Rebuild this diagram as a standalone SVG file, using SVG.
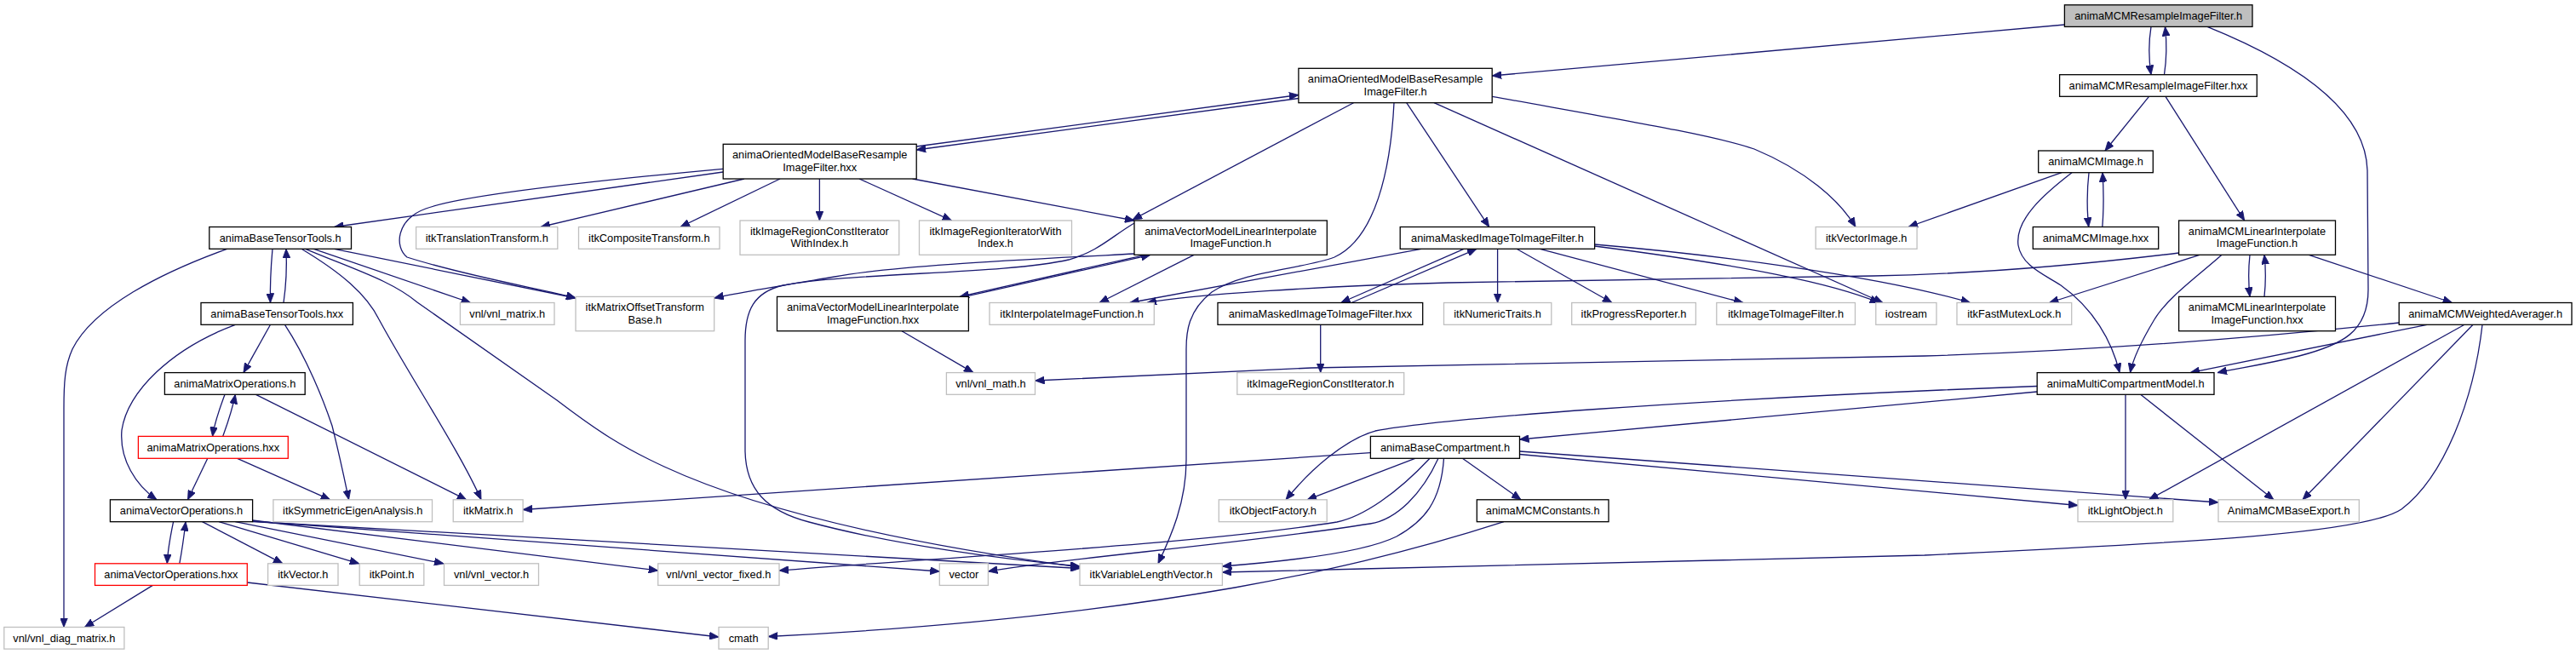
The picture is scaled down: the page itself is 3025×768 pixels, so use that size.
<svg xmlns="http://www.w3.org/2000/svg" width="3025" height="768" viewBox="0 0 3025 768">
<style>
.e{fill:none;stroke:#191970;stroke-width:1.3;marker-end:url(#ah)}
.nb{fill:#fff;stroke:#000;stroke-width:1.3}
.ng{fill:#fff;stroke:#bfbfbf;stroke-width:1.3}
.nr{fill:#fff;stroke:#ff0000;stroke-width:1.3}
.root{fill:#bfbfbf;stroke:#000;stroke-width:1.3}
text{font-family:"Liberation Sans",Arial,sans-serif;font-size:12.8px;fill:#000;text-anchor:middle}
</style>
<defs>
<marker id="ah" markerUnits="userSpaceOnUse" markerWidth="12" markerHeight="9" refX="11" refY="4.5" orient="auto"><path d="M0,0 L11,4.5 L0,9 z" fill="#191970" stroke="#191970" stroke-width="0.8"/></marker>
</defs>
<rect x="0" y="0" width="3025" height="768" fill="#fff"/>
<g id="edges">
<path class="e" d="M2424.4,29 L1752.2,89"/>
<path class="e" d="M2526,31.4 C2523,50 2523,68 2526,87.7"/>
<path class="e" d="M2541.5,87.7 C2544.5,68 2544.5,50 2542.5,31.4"/>
<path class="e" d="M2592,31.4 C2700,75 2778,130 2780,200 L2781,340 C2781,390 2750,405 2700,418 C2660,428 2630,432 2604,437.6"/>
<path class="e" d="M2523.5,113.3 L2472,177"/>
<path class="e" d="M2543,113.3 L2635.7,259"/>
<path class="e" d="M2453,202.7 C2450.5,225 2450.5,245 2452.7,266.5"/>
<path class="e" d="M2468.8,266.5 C2470.5,245 2470.5,225 2469,202.7"/>
<path class="e" d="M2421,202.7 L2241,266.5"/>
<path class="e" d="M2433,202.7 C2400,228 2366,258 2370,288 C2374,312 2400,322 2420,335 C2458,362 2480,400 2489,437.6"/>
<path class="e" d="M2558.6,297 C2420,314 2300,322 2200,324 L1700,332 C1550,336 1400,346 1347,355.5"/>
<path class="e" d="M2583,299.3 L2406.4,355.5"/>
<path class="e" d="M2609,299.3 C2580,325 2545,350 2530,375 C2515,400 2505,420 2501.5,437.6"/>
<path class="e" d="M2642,299.3 C2640,318 2640,330 2642,348.4"/>
<path class="e" d="M2659,348.4 C2661,330 2661,318 2659,299.3"/>
<path class="e" d="M2711.3,299.3 L2879.6,355.5"/>
<path class="e" d="M2817.2,379 C2600,402 2420,413 2260,418 L1540,432 L1215.5,447"/>
<path class="e" d="M2850,381.3 L2572,437.6"/>
<path class="e" d="M2894,381.3 L2523.5,586.8"/>
<path class="e" d="M2904,381.3 L2704,586.8"/>
<path class="e" d="M2915,381.3 C2905,470 2870,560 2820,598 C2780,625 2600,636 2260,652 L1600,668 L1435.4,672"/>
<path class="e" d="M2392.2,460 L1784.5,516"/>
<path class="e" d="M2392.2,453.5 L2280,458 C2000,470 1700,490 1615,506 C1580,516 1540,550 1510,586.8"/>
<path class="e" d="M2496,463.3 L2496,586.8"/>
<path class="e" d="M2513.7,463.3 L2670,586.8"/>
<path class="e" d="M1609.4,531.7 L614.1,598.5"/>
<path class="e" d="M1661.7,538.3 L1535,586.8"/>
<path class="e" d="M1679,538.3 C1640,580 1600,607 1570,613 C1400,640 1100,655 915,670"/>
<path class="e" d="M1689,538.3 C1670,580 1640,610 1609,615 C1450,640 1250,655 1160.4,671"/>
<path class="e" d="M1695.5,538.3 C1692,590 1672,612 1640,630 C1600,650 1500,660 1435.4,665"/>
<path class="e" d="M1717.4,538.3 L1786,586.8"/>
<path class="e" d="M1784.5,533.5 L2440,593.5"/>
<path class="e" d="M1784.5,530 L2605,590"/>
<path class="e" d="M1766,612.7 C1650,650 1550,672 1450,690 C1250,725 1050,740 902.2,747.5"/>
<path class="e" d="M1719,292.3 L1574.6,355.5"/>
<path class="e" d="M1587,355.5 L1734,292.3"/>
<path class="e" d="M1758.6,292.3 L1758.6,355.5"/>
<path class="e" d="M1781,292.3 L1893,355.5"/>
<path class="e" d="M1808.4,292.3 L2047,355.5"/>
<path class="e" d="M1872.6,289 C2050,312 2150,332 2207,355.5"/>
<path class="e" d="M1872.6,287 C2000,298 2200,322 2313.7,355.5"/>
<path class="e" d="M1669,292.3 L1326.7,355.5"/>
<path class="e" d="M1550.7,381.3 L1550.7,437.6"/>
<path class="e" d="M1524.9,115.5 L1076.2,176"/>
<path class="e" d="M1076.2,172 L1524.9,111.5"/>
<path class="e" d="M1589.5,120.7 L1330,258"/>
<path class="e" d="M1637,120.7 C1633,200 1615,280 1567,302 C1530,316 1460,318 1423,343 C1395,365 1393,390 1393,410 L1393,540 C1393,590 1375,630 1360,661.8"/>
<path class="e" d="M1651.7,120.7 L1748.7,266.5"/>
<path class="e" d="M1684,120.7 L2211,355.5"/>
<path class="e" d="M1752.2,113.3 C1900,140 2010,158 2060,175 C2120,200 2160,235 2179,266.5"/>
<path class="e" d="M849,202 L392.6,266.5"/>
<path class="e" d="M849,198.3 C700,212 540,230 500,245 C465,258 463,290 478,302 C550,325 640,340 676,350"/>
<path class="e" d="M874,210 L635,266.5"/>
<path class="e" d="M916,210 L799,266.5"/>
<path class="e" d="M962.4,210 L962.4,259"/>
<path class="e" d="M1009,210 L1117.5,259"/>
<path class="e" d="M1071.6,210 L1332,259"/>
<path class="e" d="M1345,299.3 L1127,348.4"/>
<path class="e" d="M1133,348.4 L1351,299.3"/>
<path class="e" d="M1332,298 C1200,305 1050,312 980,325 C920,335 870,343 838.7,350"/>
<path class="e" d="M1402,299.3 L1291,355.5"/>
<path class="e" d="M1332,262 C1305,278 1290,295 1255,305 C1180,322 1000,320 920,335 C885,343 875,365 875,400 L875,530 C876,575 900,600 950,613 C1050,640 1180,657 1268,665"/>
<path class="e" d="M1059,388.7 L1143,437.6"/>
<path class="e" d="M266.6,292.3 C190,320 110,360 85,410 C76,430 75,450 75,480 L75,736.5"/>
<path class="e" d="M320,292.3 C318,315 317,335 317.5,355.5"/>
<path class="e" d="M333,355.5 C336,335 337,315 336,292.3"/>
<path class="e" d="M368.4,292.3 L552.6,355.5"/>
<path class="e" d="M392.6,292.3 L676,350"/>
<path class="e" d="M354,292.3 C400,320 430,345 445,375 C480,440 540,530 565,586.8"/>
<path class="e" d="M358.7,292.3 C420,318 460,330 490,355 L654,470 C700,505 730,525 780,548 C860,585 1000,630 1268,666"/>
<path class="e" d="M317.5,381.3 L286,437.6"/>
<path class="e" d="M276.3,381.3 C200,410 150,460 143,505 C140,540 160,570 184,586.8"/>
<path class="e" d="M334.5,381.3 C360,420 380,470 390,500 C400,540 405,565 409.6,586.8"/>
<path class="e" d="M264,463.3 C258,480 252,495 249.6,512.4"/>
<path class="e" d="M261.7,512.4 C268,495 273,480 276.3,463.3"/>
<path class="e" d="M300.5,463.3 L547.7,586.8"/>
<path class="e" d="M243.8,538.3 L220.5,586.8"/>
<path class="e" d="M278.7,538.3 L387.8,586.8"/>
<path class="e" d="M203.6,612.7 C200,630 197,645 196.3,661.8"/>
<path class="e" d="M210.8,661.8 C214,645 216,630 218,612.7"/>
<path class="e" d="M237.5,612.7 L332,661.8"/>
<path class="e" d="M257,612.7 L421.7,661.8"/>
<path class="e" d="M276.3,612.7 L521,661.8"/>
<path class="e" d="M296.6,611 L772.7,670"/>
<path class="e" d="M296.6,612 L1103.3,671"/>
<path class="e" d="M296.6,612.5 L1268,667.5"/>
<path class="e" d="M179.3,687.4 L99.4,736.5"/>
<path class="e" d="M290.3,684 L844,748"/>
</g>
<g id="n_root"><rect class="root" x="2424.4" y="5.8" width="220.6" height="25.6"/><text x="2534.7" y="23.2">animaMCMResampleImageFilter.h</text></g>
<g id="n_omh"><rect class="nb" x="1524.9" y="80.3" width="227.3" height="40.4"/><text x="1638.6" y="97.1">animaOrientedModelBaseResample</text><text x="1638.6" y="111.7">ImageFilter.h</text></g>
<g id="n_ahxx"><rect class="nb" x="2418.6" y="87.7" width="231.7" height="25.6"/><text x="2534.5" y="105.1">animaMCMResampleImageFilter.hxx</text></g>
<g id="n_omhxx"><rect class="nb" x="849.2" y="169.3" width="227" height="40.7"/><text x="962.7" y="186.1">animaOrientedModelBaseResample</text><text x="962.7" y="200.7">ImageFilter.hxx</text></g>
<g id="n_mcmimage"><rect class="nb" x="2393.7" y="177" width="134.6" height="25.7"/><text x="2461" y="194.4">animaMCMImage.h</text></g>
<g id="n_btt"><rect class="nb" x="245.8" y="266.5" width="166.7" height="25.8"/><text x="329.2" y="283.9">animaBaseTensorTools.h</text></g>
<g id="n_itktrans"><rect class="ng" x="488.6" y="266.5" width="166.2" height="25.8"/><text x="571.7" y="283.9">itkTranslationTransform.h</text></g>
<g id="n_itkcomp"><rect class="ng" x="679.5" y="266.5" width="165.5" height="25.8"/><text x="762.3" y="283.9">itkCompositeTransform.h</text></g>
<g id="n_itkrcwi"><rect class="ng" x="869" y="259" width="186.8" height="40.3"/><text x="962.4" y="275.8">itkImageRegionConstIterator</text><text x="962.4" y="290.4">WithIndex.h</text></g>
<g id="n_itkriwi"><rect class="ng" x="1079.5" y="259" width="179" height="40.3"/><text x="1169" y="275.8">itkImageRegionIteratorWith</text><text x="1169" y="290.4">Index.h</text></g>
<g id="n_vmlh"><rect class="nb" x="1332" y="259" width="226.3" height="40.3"/><text x="1445.2" y="275.8">animaVectorModelLinearInterpolate</text><text x="1445.2" y="290.4">ImageFunction.h</text></g>
<g id="n_mih"><rect class="nb" x="1644.2" y="266.5" width="228.4" height="25.8"/><text x="1758.4" y="283.9">animaMaskedImageToImageFilter.h</text></g>
<g id="n_itkvecimg"><rect class="ng" x="2132.2" y="266.5" width="118.9" height="25.8"/><text x="2191.7" y="283.9">itkVectorImage.h</text></g>
<g id="n_mcmimagehxx"><rect class="nb" x="2387.3" y="266.5" width="147.4" height="25.8"/><text x="2461" y="283.9">animaMCMImage.hxx</text></g>
<g id="n_lih"><rect class="nb" x="2558.6" y="259" width="183.9" height="40.3"/><text x="2650.5" y="275.8">animaMCMLinearInterpolate</text><text x="2650.5" y="290.4">ImageFunction.h</text></g>
<g id="n_btthxx"><rect class="nb" x="236" y="355.5" width="178.4" height="25.8"/><text x="325.2" y="372.9">animaBaseTensorTools.hxx</text></g>
<g id="n_vnlmatrix"><rect class="ng" x="540.4" y="355.5" width="110.6" height="25.8"/><text x="595.7" y="372.9">vnl/vnl_matrix.h</text></g>
<g id="n_itkmotb"><rect class="ng" x="676" y="348.4" width="162.7" height="40.3"/><text x="757.3" y="365.2">itkMatrixOffsetTransform</text><text x="757.3" y="379.8">Base.h</text></g>
<g id="n_vmlhxx"><rect class="nb" x="912.5" y="348.4" width="224.9" height="40.3"/><text x="1025" y="365.2">animaVectorModelLinearInterpolate</text><text x="1025" y="379.8">ImageFunction.hxx</text></g>
<g id="n_itkinterp"><rect class="ng" x="1162" y="355.5" width="193.3" height="25.8"/><text x="1258.6" y="372.9">itkInterpolateImageFunction.h</text></g>
<g id="n_mihxx"><rect class="nb" x="1430" y="355.5" width="240.7" height="25.8"/><text x="1550.4" y="372.9">animaMaskedImageToImageFilter.hxx</text></g>
<g id="n_itknumtraits"><rect class="ng" x="1695.5" y="355.5" width="126.3" height="25.8"/><text x="1758.6" y="372.9">itkNumericTraits.h</text></g>
<g id="n_itkprog"><rect class="ng" x="1845.7" y="355.5" width="145.7" height="25.8"/><text x="1918.5" y="372.9">itkProgressReporter.h</text></g>
<g id="n_itkitoi"><rect class="ng" x="2015.8" y="355.5" width="162.7" height="25.8"/><text x="2097.1" y="372.9">itkImageToImageFilter.h</text></g>
<g id="n_iostream"><rect class="ng" x="2202.8" y="355.5" width="71.2" height="25.8"/><text x="2238.4" y="372.9">iostream</text></g>
<g id="n_itkfml"><rect class="ng" x="2298" y="355.5" width="134.7" height="25.8"/><text x="2365.3" y="372.9">itkFastMutexLock.h</text></g>
<g id="n_lihxx"><rect class="nb" x="2558.6" y="348.4" width="183.9" height="40.3"/><text x="2650.5" y="365.2">animaMCMLinearInterpolate</text><text x="2650.5" y="379.8">ImageFunction.hxx</text></g>
<g id="n_wa"><rect class="nb" x="2817.2" y="355.5" width="202.8" height="25.8"/><text x="2918.6" y="372.9">animaMCMWeightedAverager.h</text></g>
<g id="n_moh"><rect class="nb" x="193.4" y="437.6" width="164.8" height="25.7"/><text x="275.8" y="455">animaMatrixOperations.h</text></g>
<g id="n_vnlmath"><rect class="ng" x="1111.4" y="437.6" width="104.1" height="25.7"/><text x="1163.4" y="455">vnl/vnl_math.h</text></g>
<g id="n_itkrci"><rect class="ng" x="1452.8" y="437.6" width="195.9" height="25.7"/><text x="1550.7" y="455">itkImageRegionConstIterator.h</text></g>
<g id="n_mcm"><rect class="nb" x="2392.2" y="437.6" width="207.8" height="25.7"/><text x="2496.1" y="455">animaMultiCompartmentModel.h</text></g>
<g id="n_mohxx"><rect class="nr" x="162.4" y="512.4" width="175.9" height="25.9"/><text x="250.3" y="529.9">animaMatrixOperations.hxx</text></g>
<g id="n_bc"><rect class="nb" x="1609.4" y="512.4" width="175.1" height="25.9"/><text x="1697" y="529.9">animaBaseCompartment.h</text></g>
<g id="n_voh"><rect class="nb" x="129.4" y="586.8" width="167.2" height="25.9"/><text x="213" y="604.3">animaVectorOperations.h</text></g>
<g id="n_itksym"><rect class="ng" x="320.9" y="586.8" width="186.6" height="25.9"/><text x="414.2" y="604.3">itkSymmetricEigenAnalysis.h</text></g>
<g id="n_itkmatrix"><rect class="ng" x="532.2" y="586.8" width="81.9" height="25.9"/><text x="573.2" y="604.3">itkMatrix.h</text></g>
<g id="n_itkobjfac"><rect class="ng" x="1431.3" y="586.8" width="126.9" height="25.9"/><text x="1494.8" y="604.3">itkObjectFactory.h</text></g>
<g id="n_mcmconst"><rect class="nb" x="1734.3" y="586.8" width="154.7" height="25.9"/><text x="1811.7" y="604.3">animaMCMConstants.h</text></g>
<g id="n_itklight"><rect class="ng" x="2440" y="586.8" width="111.8" height="25.9"/><text x="2495.9" y="604.3">itkLightObject.h</text></g>
<g id="n_export"><rect class="ng" x="2605" y="586.8" width="165.3" height="25.9"/><text x="2687.7" y="604.3">AnimaMCMBaseExport.h</text></g>
<g id="n_vohxx"><rect class="nr" x="111.5" y="661.8" width="178.8" height="25.6"/><text x="200.9" y="679.2">animaVectorOperations.hxx</text></g>
<g id="n_itkvector"><rect class="ng" x="314.6" y="661.8" width="82.4" height="25.6"/><text x="355.8" y="679.2">itkVector.h</text></g>
<g id="n_itkpoint"><rect class="ng" x="422.2" y="661.8" width="75.6" height="25.6"/><text x="460" y="679.2">itkPoint.h</text></g>
<g id="n_vnlvector"><rect class="ng" x="521.5" y="661.8" width="111" height="25.6"/><text x="577" y="679.2">vnl/vnl_vector.h</text></g>
<g id="n_vnlvecfixed"><rect class="ng" x="772.7" y="661.8" width="142.3" height="25.6"/><text x="843.9" y="679.2">vnl/vnl_vector_fixed.h</text></g>
<g id="n_vector"><rect class="ng" x="1103.3" y="661.8" width="57.1" height="25.6"/><text x="1131.9" y="679.2">vector</text></g>
<g id="n_itkvlv"><rect class="ng" x="1268" y="661.8" width="167.4" height="25.6"/><text x="1351.7" y="679.2">itkVariableLengthVector.h</text></g>
<g id="n_vnldiag"><rect class="ng" x="4.8" y="736.5" width="141.1" height="25.6"/><text x="75.4" y="753.9">vnl/vnl_diag_matrix.h</text></g>
<g id="n_cmath"><rect class="ng" x="844" y="736.5" width="58.2" height="25.6"/><text x="873.1" y="753.9">cmath</text></g>
</svg>
